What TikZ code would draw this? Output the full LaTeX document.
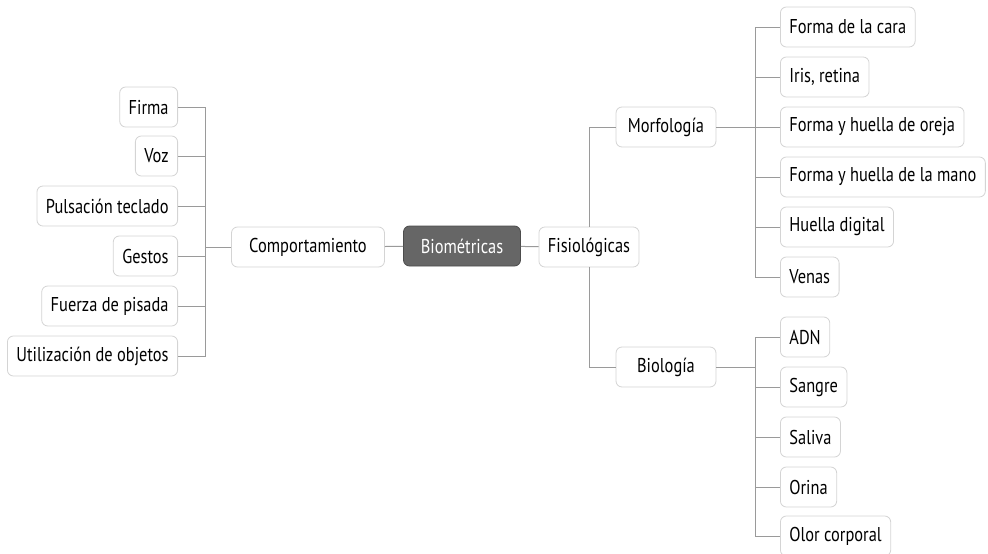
\documentclass[tikz,border=0pt]{standalone}
\usepackage{fontspec}
\setmainfont[FakeStretch=0.82]{PT Sans}
\usetikzlibrary{positioning,calc}
\definecolor{boxline}{HTML}{D4D4D4}
\definecolor{linkgray}{HTML}{9A9A9A}
\definecolor{rootfill}{HTML}{666666}
\tikzset{
  item/.style={draw=boxline,line width=0.8pt,rounded corners=6pt,fill=white,
    minimum height=40pt,inner xsep=9pt,font=\fontsize{20}{22}\selectfont},
  mid/.style={item,minimum width=100pt},
  root/.style={item,draw=black!70,fill=rootfill,text=white,minimum width=117pt},
  link/.style={draw=linkgray,line width=1pt}
}

\begin{document}
\begin{tikzpicture}[x=1pt,y=-1pt]
\useasboundingbox (0,0) rectangle (988,554);
% centre
\node[root] (bio) at (462,246) {Biométricas};
\node[mid] (fis) at (589,247) {Fisiológicas};
\node[mid,minimum width=153pt] (comp) at (308,247) {Comportamiento};
% left branch
\node[item,anchor=east] (firma) at (178,107) {Firma};
\node[item,anchor=east] (voz) at (178,156) {Voz};
\node[item,anchor=east] (puls) at (178,206) {Pulsación teclado};
\node[item,anchor=east] (gestos) at (178,256) {Gestos};
\node[item,anchor=east] (pisada) at (178,306) {Fuerza de pisada};
\node[item,anchor=east] (objetos) at (178,356) {Utilización de objetos};
\coordinate (lbus) at (205,247);
\draw[link] (bio) -- (comp);
\draw[link] (bio) -- (fis);
\draw[link] (comp) -- (lbus);
\foreach \n in {firma,voz,puls,gestos,pisada,objetos}
  \draw[link] (lbus) |- (\n.east);
% right branch
\node[mid] (morf) at (666,127) {Morfología};
\node[mid] (biol) at (666,367) {Biología};
\draw[link] (fis.north) |- (morf.west);
\draw[link] (fis.south) |- (biol.west);
\node[item,anchor=west] (cara) at (780,27) {Forma de la cara};
\node[item,anchor=west] (iris) at (780,77) {Iris, retina};
\node[item,anchor=west] (oreja) at (780,127) {Forma y huella de oreja};
\node[item,anchor=west] (mano) at (780,177) {Forma y huella de la mano};
\node[item,anchor=west] (huella) at (780,227) {Huella digital};
\node[item,anchor=west] (venas) at (780,277) {Venas};
\coordinate (mbus) at (755,127);
\draw[link] (morf) -- (mbus);
\foreach \n in {cara,iris,oreja,mano,huella,venas}
  \draw[link] (mbus) |- (\n.west);
\node[item,anchor=west] (adn) at (780,337) {ADN};
\node[item,anchor=west] (sangre) at (780,387) {Sangre};
\node[item,anchor=west] (saliva) at (780,437) {Saliva};
\node[item,anchor=west] (orina) at (780,487) {Orina};
\node[item,anchor=west] (olor) at (780,536) {Olor corporal};
\coordinate (bbus) at (755,367);
\draw[link] (biol) -- (bbus);
\foreach \n in {adn,sangre,saliva,orina,olor}
  \draw[link] (bbus) |- (\n.west);
\end{tikzpicture}
\end{document}
